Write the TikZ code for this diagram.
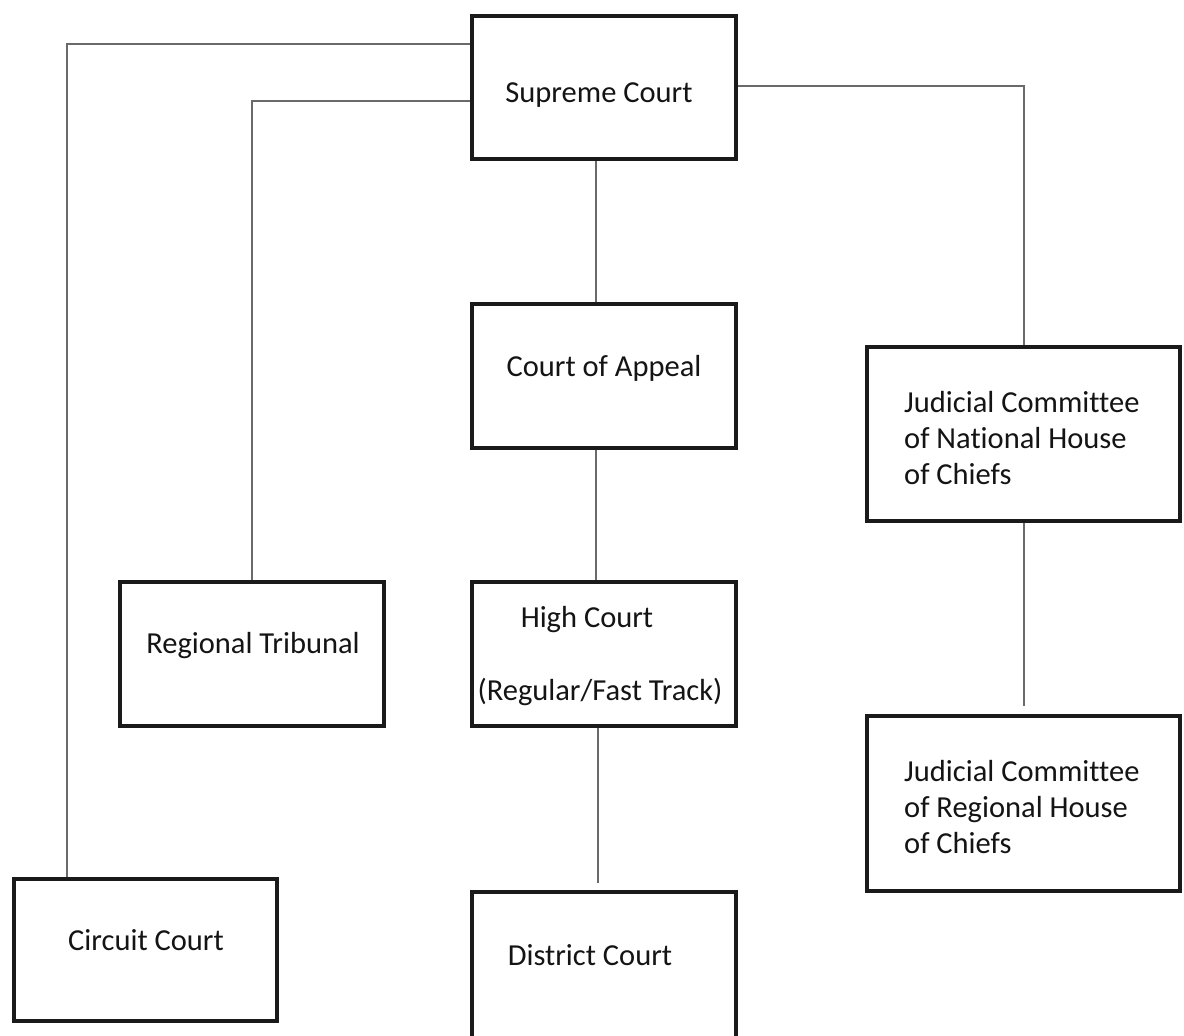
\documentclass[tikz,border=0pt]{standalone}
\usepackage{fontspec}
\setmainfont{Carlito}[Ligatures=NoCommon]
\usetikzlibrary{calc}
\definecolor{boxline}{HTML}{1A1A1A}
\definecolor{connline}{HTML}{6A6A6A}
\begin{document}
\begin{tikzpicture}[x=1pt,y=-1pt,
  court/.style={draw=boxline,line width=3.6pt,rectangle,inner sep=0pt,fill=white},
  conn/.style={draw=connline,line width=2pt},
  lbl/.style={inner sep=0pt,anchor=base,font=\fontsize{30.5}{36}\selectfont,text=black!92},
  lbll/.style={inner sep=0pt,anchor=base west,align=left,font=\fontsize{30.5}{36}\selectfont,text=black!92}]
\useasboundingbox[fill=white] (0,0) rectangle (1184,1036);
% boxes
\node[court,minimum width=264pt,minimum height=143pt] (sc) at (604,87.5) {};
\node[court,minimum width=264pt,minimum height=144pt] (ca) at (604,376) {};
\node[court,minimum width=264pt,minimum height=144pt] (hc) at (604,654) {};
\node[court,minimum width=264pt,minimum height=148pt] (dc) at (604,966) {};
\node[court,minimum width=264pt,minimum height=144pt] (rt) at (252,654) {};
\node[court,minimum width=263pt,minimum height=142pt] (cc) at (145.5,950) {};
\node[court,minimum width=313pt,minimum height=174pt] (jcn) at (1023.5,434) {};
\node[court,minimum width=313pt,minimum height=175pt] (jcr) at (1023.5,803.5) {};
% connectors
\draw[conn] ($(sc.north west)+(0,30)$) -| ($(cc.north west)+(55,0)$);
\draw[conn] ($(sc.north west)+(0,87)$) -| (rt.north);
\draw[conn] ($(sc.north east)+(0,72)$) -| (jcn.north);
\draw[conn] ($(sc.south)+(-8,0)$) -- ($(ca.north)+(-8,0)$);
\draw[conn] ($(ca.south)+(-8,0)$) -- ($(hc.north)+(-8,0)$);
\draw[conn] ($(hc.south)+(-6,0)$) -- ($(dc.north)+(-6,-7)$);
\draw[conn] (jcn.south) -- ($(jcr.north)+(0,-8)$);
% labels
\node[lbl] (tsc) at (599,102) {Supreme Court};
\node[lbl] (tca) at (604,376) {Court of Appeal};
\node[lbl] (thc) at (587,627) {High Court};
\node[lbl] (thc2) at (600,700) {(Regular/Fast Track)};
\node[lbl] (tdc) at (590,965) {District Court};
\node[lbl] (trt) at (253,653) {Regional Tribunal};
\node[lbl] (tcc) at (146,950) {Circuit Court};
\node[lbll] (tjcn) at (904,484) {Judicial Committee\\of National House\\of Chiefs};
\node[lbll] (tjcr) at (904,853) {Judicial Committee\\of Regional House\\of Chiefs};
\end{tikzpicture}
\end{document}
